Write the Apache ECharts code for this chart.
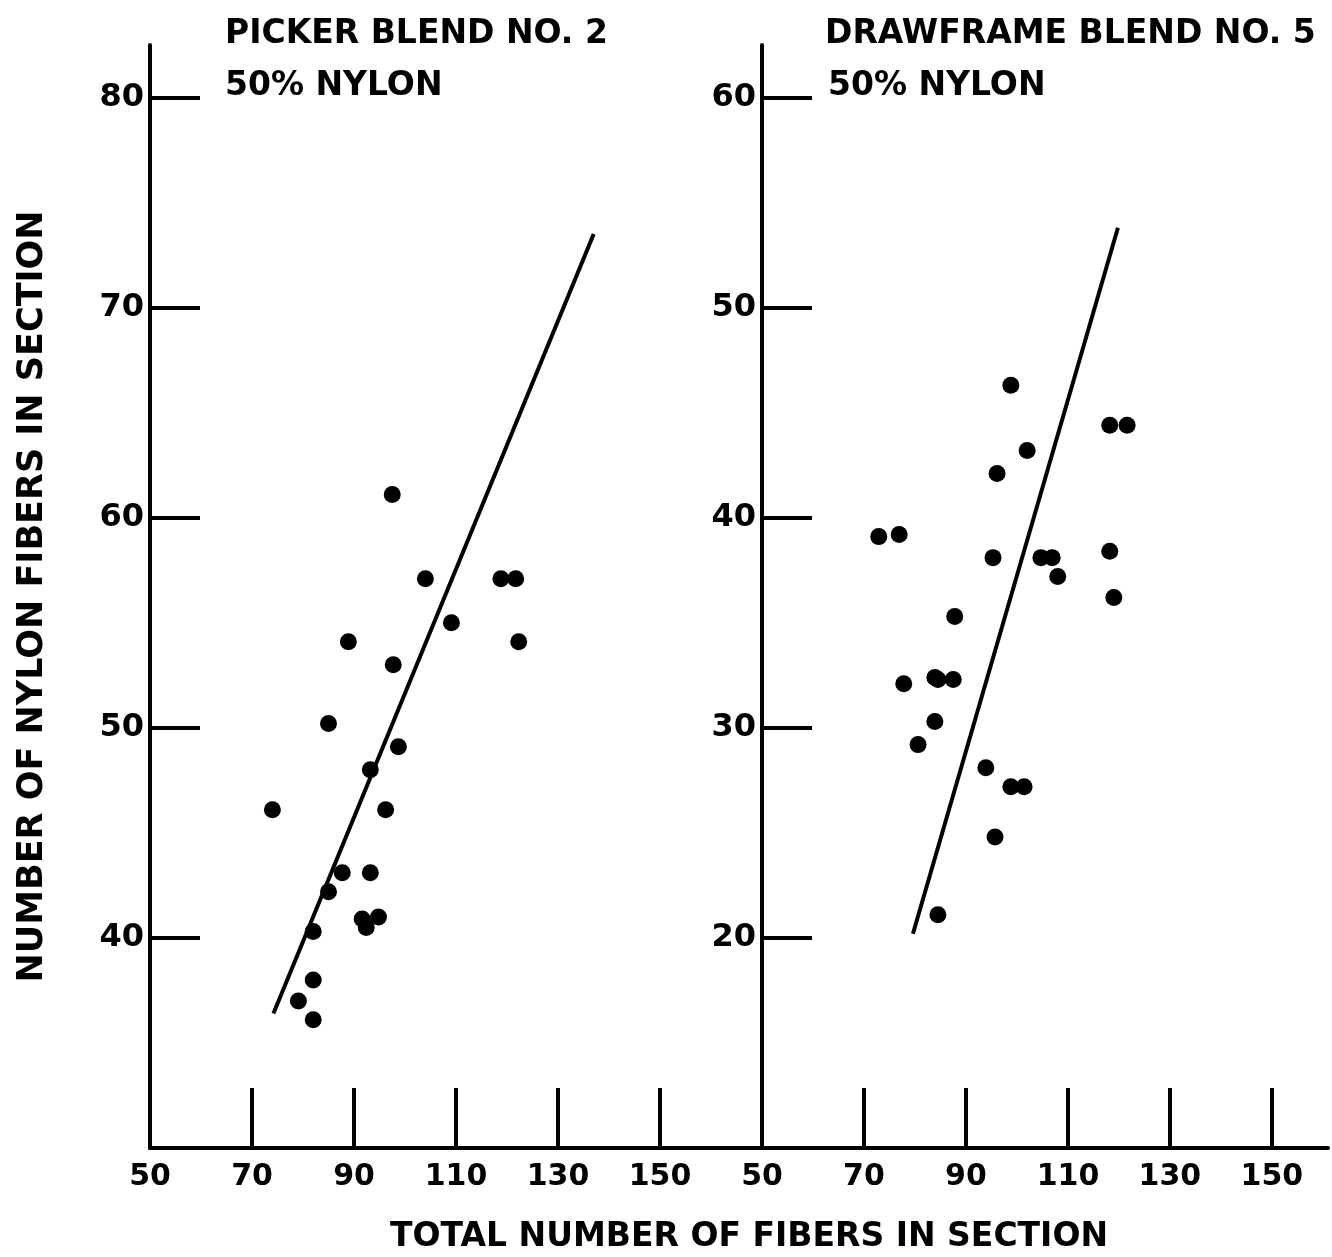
<!DOCTYPE html>
<html>
<head>
<meta charset="utf-8">
<title>Nylon fibers in section</title>
<script src="https://cdn.jsdelivr.net/npm/echarts@6/dist/echarts.min.js"></script>
<style>
  html, body { margin: 0; padding: 0; background: #fff; }
  #chart { width: 1332px; height: 1257px; }
</style>
</head>
<body>
<div id="chart"></div>
<script>
// picker blend no. 2 : [total fibers, nylon fibers]
const pickerPoints = [
  [74, 46.1], [79.1, 37.0], [82, 38.0], [82, 36.1], [82, 40.3], [85, 42.2],
  [85, 50.2], [87.7, 43.1], [88.9, 54.1], [91.6, 40.9], [92.4, 40.5], [93.2, 48.0],
  [93.2, 43.1], [94.8, 41.0], [96.2, 46.1], [97.5, 61.1], [97.7, 53.0], [98.7, 49.1],
  [104, 57.1], [109.1, 55.0], [118.8, 57.1], [121.7, 57.1], [122.3, 54.1]
]
const pickerLine = [[74.2, 36.4], [137, 73.5]]

// drawframe blend no. 5
const drawframePoints = [
  [72.9, 39.1], [76.9, 39.2], [77.8, 32.1], [80.6, 29.2], [83.9, 32.4], [84.5, 32.3],
  [83.9, 30.3], [84.5, 21.1], [87.5, 32.3], [87.8, 35.3], [93.9, 28.1], [95.3, 38.1],
  [95.7, 24.8], [96.1, 42.1], [98.8, 46.3], [98.8, 27.2], [101.4, 27.2], [102, 43.2],
  [104.7, 38.1], [106.9, 38.1], [108, 37.2], [118.2, 44.4], [121.6, 44.4], [118.2, 38.4],
  [119, 36.2]
]
const drawframeLine = [[79.6, 20.2], [119.8, 53.8]]

const xLabels = [50, 70, 90, 110, 130, 150]
const xTicks = [70, 90, 110, 130, 150]
const pickerYTicks = [40, 50, 60, 70, 80]
const drawframeYTicks = [20, 30, 40, 50, 60]

const FONT = 'DejaVu Sans'
const INK = '#000'

const chart = echarts.init(document.getElementById('chart'))

const xAxisBase = (max) => ({
  type: 'value',
  min: 50,
  max: max,
  interval: 20,
  splitLine: { show: false },
  axisLine: { lineStyle: { color: INK, width: 4 } },
  axisTick: { inside: true, length: 60, customValues: xTicks, lineStyle: { color: INK, width: 4 } },
  axisLabel: { customValues: xLabels, margin: 14, color: INK, fontFamily: FONT, fontWeight: 'bold', fontSize: 30 }
})

const yAxisBase = (min, ticks) => ({
  type: 'value',
  min: min,
  max: min + 52.5,
  interval: 10,
  splitLine: { show: false },
  axisLine: { onZero: false, lineStyle: { color: INK, width: 4 } },
  axisTick: { inside: true, length: 50, customValues: ticks, lineStyle: { color: INK, width: 4 } },
  axisLabel: { customValues: ticks, margin: 6, color: INK, fontFamily: FONT, fontWeight: 'bold', fontSize: 32 }
})

const titleStyle = { color: INK, fontFamily: FONT, fontWeight: 'bold', fontSize: 33 }

chart.setOption({
  backgroundColor: '#fff',
  animation: false,
  title: [
    { text: 'PICKER BLEND NO. 2', left: 225, top: 18, padding: 0, textStyle: titleStyle },
    { text: '50% NYLON', left: 225, top: 70, padding: 0, textStyle: titleStyle },
    { text: 'DRAWFRAME BLEND NO. 5', left: 825, top: 18, padding: 0, textStyle: titleStyle },
    { text: '50% NYLON', left: 828, top: 70, padding: 0, textStyle: titleStyle },
    { text: 'TOTAL NUMBER OF FIBERS IN SECTION', left: 390, top: 1221, padding: 0, textStyle: titleStyle }
  ],
  grid: [
    { left: 150, top: 45, width: 612, height: 1103 },
    { left: 762, top: 45, width: 566, height: 1103 }
  ],
  xAxis: [
    Object.assign(xAxisBase(170), { gridIndex: 0 }),
    Object.assign(xAxisBase(161), { gridIndex: 1 })
  ],
  yAxis: [
    Object.assign(yAxisBase(30, pickerYTicks), {
      gridIndex: 0,
      name: 'NUMBER OF NYLON FIBERS IN SECTION',
      nameLocation: 'middle',
      nameRotate: 90,
      nameGap: 100,
      nameTextStyle: Object.assign({}, titleStyle, { fontSize: 35 })
    }),
    Object.assign(yAxisBase(10, drawframeYTicks), { gridIndex: 1 })
  ],
  series: [
    {
      type: 'scatter', xAxisIndex: 0, yAxisIndex: 0,
      data: pickerPoints, symbolSize: 17, itemStyle: { color: INK, opacity: 1 }
    },
    {
      type: 'line', xAxisIndex: 0, yAxisIndex: 0,
      data: pickerLine, symbol: 'none', lineStyle: { color: INK, width: 4 }
    },
    {
      type: 'scatter', xAxisIndex: 1, yAxisIndex: 1,
      data: drawframePoints, symbolSize: 17, itemStyle: { color: INK, opacity: 1 }
    },
    {
      type: 'line', xAxisIndex: 1, yAxisIndex: 1,
      data: drawframeLine, symbol: 'none', lineStyle: { color: INK, width: 4 }
    }
  ]
})

window.addEventListener('resize', () => chart.resize())
</script>
</body>
</html>
